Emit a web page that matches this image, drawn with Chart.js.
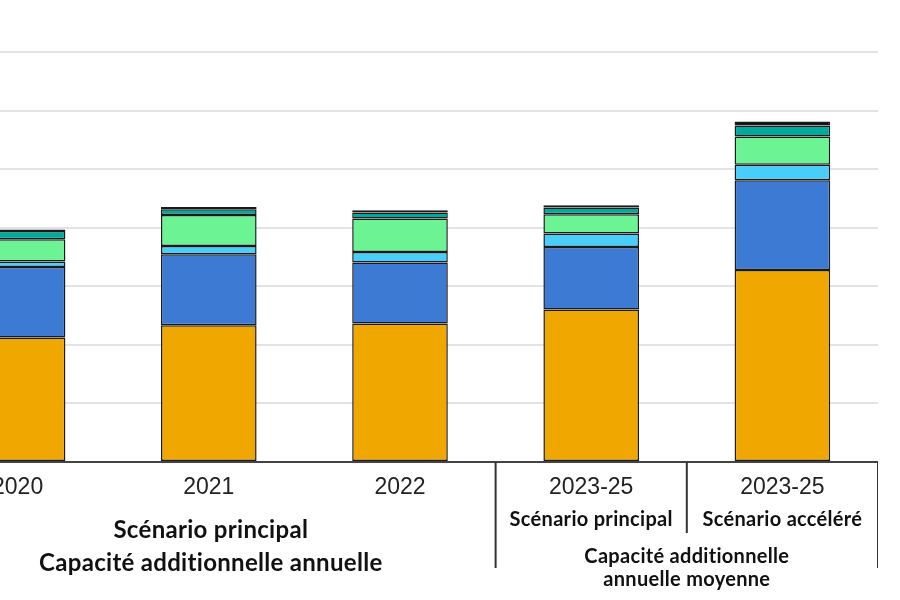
<!DOCTYPE html>
<html>
<head>
<meta charset="utf-8">
<script src="https://cdn.jsdelivr.net/npm/chart.js@4"></script>
<style>
  body { margin: 0; background: #fff; overflow: hidden; }
  #wrap { position: absolute; left: -78px; top: 0; width: 956px; height: 600px; }
</style>
</head>
<body>
<div id="wrap"><canvas id="capacityChart"></canvas></div>
<script>
// categories (x axis) - the chart is cropped on the left, 2020 is partly hidden
const categories = ['2020', '2021', '2022', '2023-25', '2023-25'];

// additions per technology, GW
const solarPV      = [106.3, 116.8, 118.2, 130.2, 163.9];
const windOnshore  = [60.2, 60.5, 52.0, 53.4, 76.7];
const windOffshore = [4.6, 7.1, 9.0, 11.4, 13.1];
const hydro        = [19.0, 26.4, 28.7, 16.5, 24.1];
const bioenergy    = [7.1, 4.9, 5.1, 5.7, 9.4];
const others       = [1.2, 2.0, 2.0, 2.0, 3.4];

const yTicks = [0, 50, 100, 150, 200, 250, 300, 350];

const seriesNames  = ['Solaire PV', 'Éolien terrestre', 'Éolien en mer', 'Hydroélectricité', 'Bioénergie', 'Autres'];
const seriesData   = [solarPV, windOnshore, windOffshore, hydro, bioenergy, others];
const seriesColors = ['#F0A800', '#3D7AD3', '#48CEFB', '#6CF394', '#00AB9D', '#111111'];

// group labels and separators under the axis
const groupLines = {
  id: 'groupLines',
  afterDraw(chart) {
    const c = chart.ctx;
    const x = chart.scales.x;
    const bottom = chart.chartArea.bottom;
    const half = (x.getPixelForValue(1) - x.getPixelForValue(0)) / 2;
    const b23 = x.getPixelForValue(2) + half;
    const b34 = x.getPixelForValue(3) + half;
    const end = x.getPixelForValue(4) + half;

    c.save();
    c.strokeStyle = '#333';
    c.lineWidth = 2;
    c.beginPath();
    c.moveTo(b23, bottom); c.lineTo(b23, 568);
    c.moveTo(b34, bottom); c.lineTo(b34, 533);
    c.moveTo(end, bottom); c.lineTo(end, 568);
    c.stroke();

    c.fillStyle = '#111';
    c.textAlign = 'center';
    c.textBaseline = 'middle';
    const leftMid = (x.getPixelForValue(0) - half + b23) / 2 + 2;
    c.font = 'bold 24px Lato';
    c.letterSpacing = '0.3px';
    c.fillText('Scénario principal', leftMid, 530);
    c.fillText('Capacité additionnelle annuelle', leftMid, 563);

    c.font = 'bold 20px Lato';
    c.letterSpacing = '0.3px';
    c.fillText('Scénario principal', x.getPixelForValue(3), 520);
    c.fillText('Scénario accéléré', x.getPixelForValue(4), 520);
    c.fillText('Capacité additionnelle', (b23 + end) / 2, 557);
    c.fillText('annuelle moyenne', (b23 + end) / 2, 580);
    c.restore();
  }
};

const ctx = document.getElementById('capacityChart');

const chart = new Chart(ctx, {
  type: 'bar',
  data: {
    labels: categories,
    datasets: seriesData.map((d, i) => ({
      label: seriesNames[i],
      data: d,
      backgroundColor: seriesColors[i],
      borderColor: '#1a1a1a',
      borderWidth: 1.5,
      borderSkipped: false,
      barPercentage: 0.5,
      categoryPercentage: 1
    }))
  },
  options: {
    responsive: true,
    maintainAspectRatio: false,
    animation: false,
    layout: { padding: { top: 52, left: 0, right: 0, bottom: 0 } },
    plugins: {
      legend: { display: false },
      tooltip: { enabled: false }
    },
    scales: {
      x: {
        stacked: true,
        grid: { display: false },
        border: { display: true, color: '#444', width: 2 },
        ticks: {
          color: '#222',
          font: { family: 'Liberation Sans, Arial', size: 23 },
          padding: 4,
          maxRotation: 0
        },
        afterFit(scale) { scale.height = 138; }
      },
      y: {
        stacked: true,
        min: 0,
        max: 350,
        afterBuildTicks(scale) { scale.ticks = yTicks.map(v => ({ value: v })); },
        ticks: { display: false },
        grid: { color: '#e3e3e3', lineWidth: 2, drawTicks: false },
        border: { display: false },
        afterFit(scale) { scale.width = 0; }
      }
    }
  },
  plugins: [groupLines]
});
</script>
</body>
</html>
